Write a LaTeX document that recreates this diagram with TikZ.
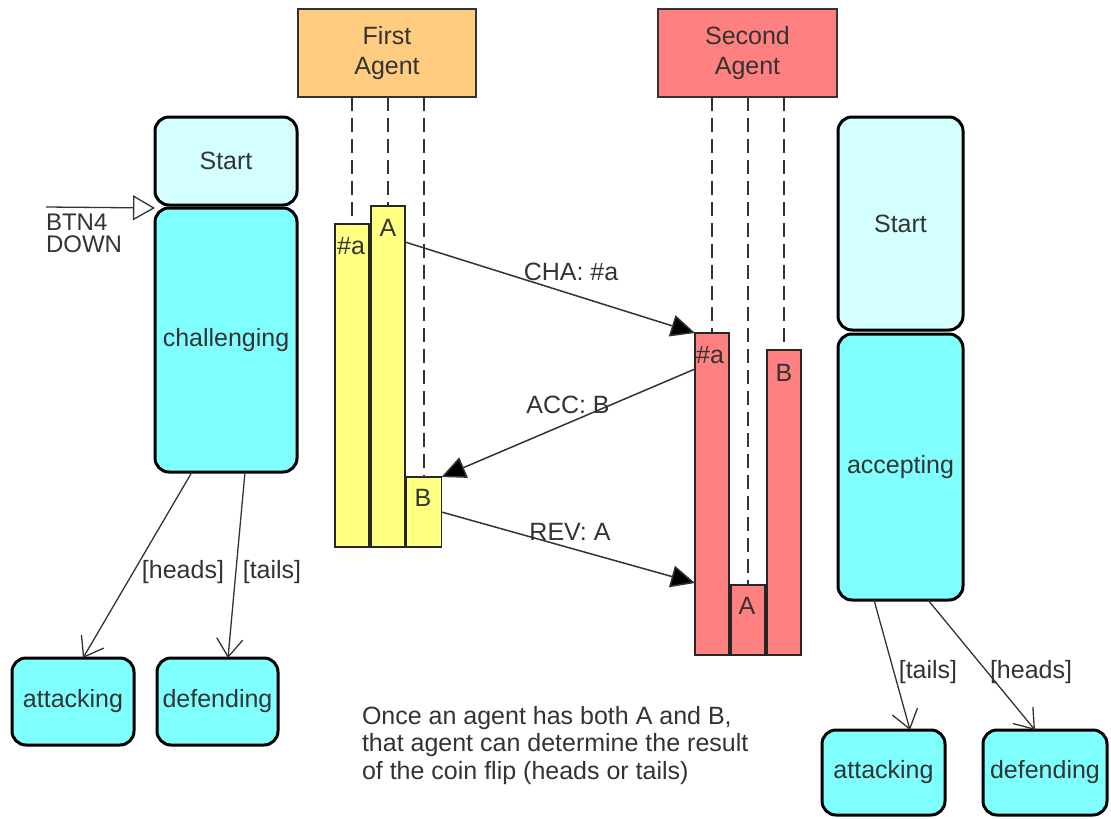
\documentclass[tikz,border=0pt]{standalone}
\usepackage{fontspec}
\setmainfont{Liberation Sans}
\usetikzlibrary{arrows.meta,calc}
\definecolor{ink}{HTML}{333333}
\definecolor{startfill}{HTML}{D4FFFF}
\definecolor{statefill}{HTML}{80FFFF}
\definecolor{firstfill}{HTML}{FFCC80}
\definecolor{secondfill}{HTML}{FF8080}
\definecolor{barfill}{HTML}{FFFF80}

\begin{document}
\begin{tikzpicture}[x=1pt,y=-1pt,
  every node/.style={font=\fontsize{25}{28}\selectfont, text=ink, inner sep=0pt, outer sep=0pt},
  statebox/.style={draw=black, line width=3pt, rounded corners=14pt, fill=statefill},
  startbox/.style={statebox, fill=startfill},
  agentbox/.style={draw=ink, line width=1.4pt, align=center, font=\fontsize{25}{30}\selectfont},
  actbar/.style={draw=black!85, line width=1.4pt, minimum width=34pt},
  life/.style={draw=ink, line width=1.5pt, dash pattern=on 14pt off 7pt},
  msg/.style={draw=ink, line width=1.5pt, -{Triangle[length=24pt,width=22pt,fill=black]}},
  trans/.style={draw=ink, line width=1.3pt, -{Straight Barb[length=18pt,width=26pt,line width=1.3pt]}},
  lbl/.style={text=ink}]

\useasboundingbox (0,0) rectangle (1111,819);

% --- left state machine ---
\node[startbox, minimum width=142pt, minimum height=88pt] (lstart) at (226,161) {Start};
\node[statebox, minimum width=142pt, minimum height=264pt] (chal) at (226,340) {challenging};
\node[statebox, minimum width=122pt, minimum height=87pt] (latt) at (73,701.5) {attacking};
\node[statebox, minimum width=121pt, minimum height=87pt] (ldef) at (217.5,701.5) {defending};

\coordinate (btnsrc) at (46,207);
\draw[draw=ink, line width=1.3pt, -{Triangle[open,length=22pt,width=25pt,fill=white]}] (btnsrc) -- (chal.north west);
\node[anchor=north west, align=left, font=\fontsize{24}{22}\selectfont] (btnlbl) at (46,214) {BTN4\\DOWN};

\draw[trans] ($(chal.south)+(-34,0)$) -- ($(latt.north)+(10,0)$);
\draw[trans] ($(chal.south)+(19,0)$) -- ($(ldef.north)+(10.5,0)$);
\node[lbl] (lheads) at (183,572) {[heads]};
\node[lbl] (ltails) at (272,572) {[tails]};

% --- agents and lifelines ---
\node[agentbox, fill=firstfill, minimum width=178pt, minimum height=88pt] (fa) at (387,53) {First\\Agent};
\node[agentbox, fill=secondfill, minimum width=179pt, minimum height=88pt] (sa) at (747.5,53) {Second\\Agent};

\node[actbar, fill=barfill, minimum height=323pt] (yb1) at (352,385.5) {};
\node[actbar, fill=barfill, minimum height=341pt] (yb2) at (388,376.5) {};
\node[actbar, fill=barfill, minimum width=35pt, minimum height=70pt] (yb3) at (424,512) {};

\node[actbar, fill=secondfill, minimum height=322pt] (rb1) at (712,494) {};
\node[actbar, fill=secondfill, minimum height=70pt] (rb2) at (748,620) {};
\node[actbar, fill=secondfill, minimum height=305pt] (rb3) at (784,502.5) {};

\foreach \b/\a in {yb1/fa, yb2/fa, yb3/fa, rb1/sa, rb2/sa, rb3/sa}
  \draw[life] (\b.north |- \a.south) -- (\b.north);

\node (yb1t) at ($(yb1.north)+(-1,22)$) {\#a};
\node (yb2t) at ($(yb2.north)+(0,22)$) {A};
\node (yb3t) at ($(yb3.north)+(-1,21)$) {B};
\node (rb1t) at ($(rb1.north)+(-2,22)$) {\#a};
\node (rb2t) at ($(rb2.north)+(-1,21)$) {A};
\node (rb3t) at ($(rb3.north)+(0,23)$) {B};

% --- messages ---
\draw[msg] ($(yb2.north east)+(0,36)$) -- (rb1.north west);
\draw[msg] ($(rb1.north west)+(0,36)$) -- (yb3.north east);
\draw[msg] (yb3.east) -- ($(rb1.west)+(0,89)$);
\node[lbl] (cha) at (571,272) {CHA: \#a};
\node[lbl] (acc) at (568,405) {ACC: B};
\node[lbl] (rev) at (570,532) {REV: A};

% --- right state machine ---
\node[startbox, minimum width=125pt, minimum height=213pt] (rstart) at (900.5,223.5) {Start};
\node[statebox, minimum width=125pt, minimum height=266pt] (acc) at (900.5,467) {accepting};
\node[statebox, minimum width=123pt, minimum height=85pt] (ratt) at (883.5,772.5) {attacking};
\node[statebox, minimum width=124pt, minimum height=85pt] (rdef) at (1045,772.5) {defending};

\draw[trans] ($(acc.south)+(-26.5,0)$) -- ($(ratt.north)+(26.5,0)$);
\draw[trans] ($(acc.south)+(27.5,0)$) -- ($(rdef.north)+(-10,0)$);
\node[lbl] (rtails) at (928,672) {[tails]};
\node[lbl] (rheads) at (1031,672) {[heads]};

% --- note ---
\node[anchor=west, align=left, font=\fontsize{25}{27.5}\selectfont] (note) at (362,745.5)
  {Once an agent has both A and B,\\that agent can determine the result\\of the coin flip (heads or tails)};
\end{tikzpicture}
\end{document}
